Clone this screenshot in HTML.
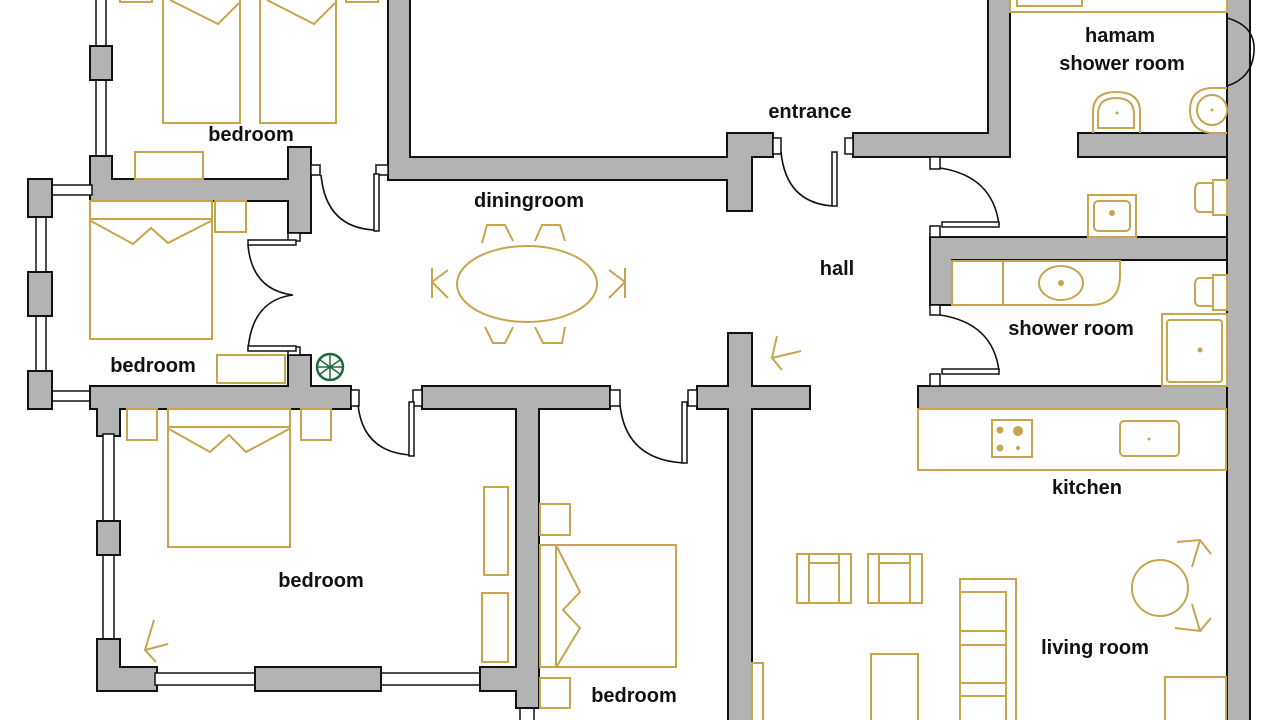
<!DOCTYPE html>
<html><head><meta charset="utf-8"><style>
html,body{margin:0;padding:0;background:#fff;}
svg{display:block;}
.w{fill:#b3b3b3;stroke:#111;stroke-width:2;}
.g{fill:none;stroke:#c6a54e;stroke-width:2;}
.gf{fill:#c6a54e;}
.d{fill:none;stroke:#111;stroke-width:1.6;}
.j{fill:#fff;stroke:#111;stroke-width:1.5;}
text{font-family:"Liberation Sans",sans-serif;font-weight:bold;font-size:20px;fill:#111;text-anchor:middle;}
</style></head><body>
<svg width="1280" height="720" viewBox="0 0 1280 720" xmlns="http://www.w3.org/2000/svg">
<rect width="1280" height="720" fill="#fff"/>

<rect class="j" x="96" y="-2" width="10" height="160"/>
<rect class="w" x="90" y="46" width="22" height="34"/>

<path class="w" d="M90,156 H112 V179 H288 V147 H311 V233 H288 V201 H90 Z"/>
<rect class="j" x="36" y="215" width="10" height="160"/>
<rect class="j" x="50" y="185" width="42" height="10"/>
<rect class="j" x="50" y="391" width="42" height="10"/>
<rect class="w" x="28" y="179" width="24" height="38"/>
<rect class="w" x="28" y="272" width="24" height="44"/>
<rect class="w" x="28" y="371" width="24" height="38"/>
<path class="w" d="M90,386 H288 V355 H311 V386 H351 V409 H120 V436 H97 V409 H90 Z"/>

<rect class="j" x="103" y="434" width="11" height="208"/>
<rect class="w" x="97" y="521" width="23" height="34"/>
<path class="w" d="M97,639 H120 V667 H157 V691 H97 Z"/>
<rect class="j" x="155" y="673" width="102" height="12"/>
<rect class="j" x="379" y="673" width="103" height="12"/>
<rect class="w" x="255" y="667" width="126" height="24"/>
<rect class="j" x="520" y="706" width="14" height="20"/>
<path class="w" d="M422,386 H610 V409 H539 V708 H516 V691 H480 V667 H516 V409 H422 Z"/>

<path class="w" d="M388,-2 H410 V157 H727 V133 H773 V157 H752 V211 H727 V180 H388 Z"/>
<path class="w" d="M988,-2 H1010 V157 H853 V133 H988 Z"/>
<rect class="w" x="1227" y="-2" width="23" height="724"/>
<rect class="w" x="1078" y="133" width="149" height="24"/>
<path class="w" d="M930,237 H1227 V260 H952 V305 H930 Z"/>
<rect class="w" x="918" y="386" width="309" height="23"/>
<path class="w" d="M728,333 H752 V386 H810 V409 H752 V722 H728 V409 H697 V386 H728 Z"/>

<rect class="j" x="311" y="165" width="9" height="10"/>
<rect class="j" x="376" y="165" width="12" height="10"/>
<rect class="j" x="288" y="233" width="12" height="8"/>
<rect class="j" x="288" y="347" width="12" height="8"/>
<rect class="j" x="351" y="390" width="8" height="16"/>
<rect class="j" x="413" y="390" width="9" height="16"/>
<rect class="j" x="610" y="390" width="10" height="16"/>
<rect class="j" x="688" y="390" width="9" height="16"/>
<rect class="j" x="773" y="138" width="8" height="16"/>
<rect class="j" x="845" y="138" width="8" height="16"/>
<rect class="j" x="930" y="157" width="10" height="12"/>
<rect class="j" x="930" y="226" width="10" height="11"/>
<rect class="j" x="930" y="305" width="10" height="10"/>
<rect class="j" x="930" y="374" width="10" height="12"/>

<path class="d" d="M321,175 Q326,228 375,230"/>
<rect class="j" x="374" y="174" width="5" height="57"/>
<path class="d" d="M248,245 Q252,290 293,295 Q252,300 248,350"/>
<rect class="j" x="248" y="240" width="48" height="5"/>
<rect class="j" x="248" y="346" width="48" height="5"/>
<path class="d" d="M358,405 Q363,452 411,455"/>
<rect class="j" x="409" y="402" width="5" height="54"/>
<path class="d" d="M620,405 Q626,460 684,463"/>
<rect class="j" x="682" y="402" width="5" height="61"/>
<path class="d" d="M781,152 Q786,203 833,206"/>
<rect class="j" x="832" y="152" width="5" height="54"/>
<path class="d" d="M940,168 Q993,176 999,225"/>
<rect class="j" x="942" y="222" width="57" height="5"/>
<path class="d" d="M940,315 Q993,323 999,371"/>
<rect class="j" x="942" y="369" width="57" height="5"/>
<path class="d" d="M1227,18 Q1256,26 1254,52 Q1252,78 1227,86"/>

<rect class="g" x="120" y="-2" width="32" height="4"/>
<rect class="g" x="346" y="-2" width="32" height="4"/>
<rect class="g" x="163" y="-2" width="77" height="125"/>
<rect class="g" x="260" y="-2" width="76" height="125"/>
<path class="g" d="M170,0 L218,24 L239,3 M267,0 L314,24 L335,3"/>
<rect class="g" x="135" y="152" width="68" height="27"/>
<rect class="g" x="90" y="201" width="122" height="138"/>
<path class="g" d="M90,219 H212 M91,221 L133,244 L151,228 L168,243 L211,221"/>
<rect class="g" x="215" y="201" width="31" height="31"/>
<rect class="g" x="217" y="355" width="68" height="28"/>
<circle cx="330" cy="367" r="13" fill="none" stroke="#1f6b3d" stroke-width="2.5"/>
<path d="M320,360 L340,374 M320,374 L340,360 M330,355 V379 M318,367 H342" stroke="#1f6b3d" stroke-width="1.5"/>
<rect class="g" x="127" y="409" width="30" height="31"/>
<rect class="g" x="301" y="409" width="30" height="31"/>
<rect class="g" x="168" y="409" width="122" height="138"/>
<path class="g" d="M168,427 H290 M169,429 L210,452 L229,435 L246,452 L289,429"/>
<rect class="g" x="484" y="487" width="24" height="88"/>
<rect class="g" x="482" y="593" width="26" height="69"/>
<path class="g" d="M154,620 L145,650 L156,662 M145,650 L168,644"/>
<rect class="g" x="540" y="504" width="30" height="31"/>
<rect class="g" x="540" y="678" width="30" height="30"/>
<rect class="g" x="540" y="545" width="136" height="122"/>
<path class="g" d="M556,546 V667 M557,547 L580,592 L563,610 L580,628 L557,666"/>
<ellipse class="g" cx="527" cy="284" rx="70" ry="38"/>
<path class="g" d="M482,243 L487,225 H505 L513,241 M535,241 L542,225 H560 L565,241"/>
<path class="g" d="M485,327 L493,343 H505 L513,327 M535,327 L543,343 H562 L565,327"/>
<path class="g" d="M448,270 L432,282 L448,298 M432,268 V298"/>
<path class="g" d="M609,270 L625,282 L609,298 M625,268 V298"/>
<path class="g" d="M777,336 L772,358 L782,370 M772,358 L801,351"/>
<rect class="g" x="1010" y="-2" width="217" height="14"/>
<rect class="g" x="1017" y="-2" width="65" height="8"/>
<path class="g" d="M1093,133 V112 Q1093,92 1116,92 Q1140,92 1140,112 V133"/>
<path class="g" d="M1098,128 V114 Q1098,98 1116,98 Q1134,98 1134,114 V128 Z"/>
<circle cx="1117" cy="113" r="1.5" class="gf"/>
<path class="g" d="M1227,88 H1210 Q1190,90 1190,110 Q1190,130 1210,133 H1227"/>
<circle class="g" cx="1212" cy="110" r="15"/>
<circle cx="1212" cy="110" r="1.5" class="gf"/>
<rect class="g" x="1088" y="195" width="48" height="42"/>
<rect class="g" x="1094" y="201" width="36" height="30" rx="4"/>
<circle cx="1112" cy="213" r="3" class="gf"/>
<path class="g" d="M1213,183 H1200 Q1195,183 1195,190 V205 Q1195,212 1200,212 H1213 M1213,180 H1227 V215 H1213 Z"/>
<path class="g" d="M1213,278 H1200 Q1195,278 1195,285 V300 Q1195,306 1200,306 H1213 M1213,275 H1227 V310 H1213 Z"/>
<path class="g" d="M952,261 H1120 V275 Q1120,305 1090,305 H952 Z M1003,261 V305"/>
<ellipse class="g" cx="1061" cy="283" rx="22" ry="17"/>
<circle cx="1061" cy="283" r="3" class="gf"/>
<rect class="g" x="1162" y="314" width="65" height="72"/>
<rect class="g" x="1167" y="320" width="55" height="62" rx="3"/>
<circle cx="1200" cy="350" r="2.5" class="gf"/>
<rect class="g" x="918" y="409" width="308" height="61"/>
<rect class="g" x="992" y="420" width="40" height="37"/>
<circle cx="1000" cy="430" r="3.5" class="gf"/><circle cx="1018" cy="431" r="5" class="gf"/>
<circle cx="1000" cy="448" r="3.5" class="gf"/><circle cx="1018" cy="448" r="2" class="gf"/>
<rect class="g" x="1120" y="421" width="59" height="35" rx="4"/>
<circle cx="1149" cy="439" r="1.5" class="gf"/>
<rect class="g" x="797" y="554" width="54" height="49"/>
<path class="g" d="M809,554 V603 M839,554 V603 M809,563 H839"/>
<rect class="g" x="868" y="554" width="54" height="49"/>
<path class="g" d="M879,554 V603 M910,554 V603 M879,563 H910"/>
<rect class="g" x="960" y="579" width="56" height="145"/>
<path class="g" d="M960,592 H1006 V724 M960,631 H1006 M960,645 H1006 M960,683 H1006 M960,696 H1006"/>
<rect class="g" x="871" y="654" width="47" height="70"/>
<circle class="g" cx="1160" cy="588" r="28"/>
<path class="g" d="M1177,542 L1200,540 L1211,554 M1200,540 L1192,567 M1175,628 L1200,631 L1192,604 M1200,631 L1211,618"/>
<rect class="g" x="1165" y="677" width="61" height="47"/>
<rect class="g" x="752" y="663" width="11" height="60"/>

<text x="251" y="141">bedroom</text>
<text x="153" y="372">bedroom</text>
<text x="529" y="207">diningroom</text>
<text x="810" y="118">entrance</text>
<text x="837" y="275">hall</text>
<text x="1120" y="42">hamam</text>
<text x="1122" y="70">shower room</text>
<text x="1071" y="335">shower room</text>
<text x="1087" y="494">kitchen</text>
<text x="1095" y="654">living room</text>
<text x="321" y="587">bedroom</text>
<text x="634" y="702">bedroom</text>
</svg>
</body></html>
